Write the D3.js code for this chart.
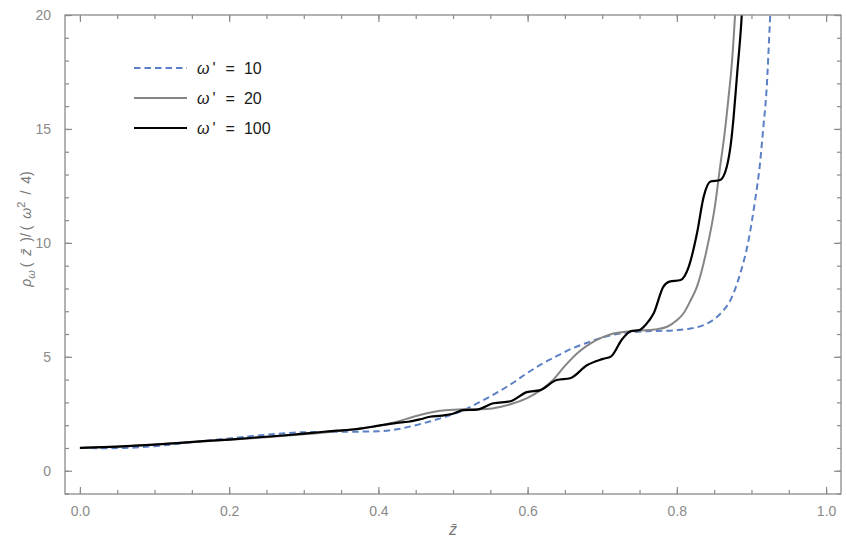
<!DOCTYPE html>
<html>
<head>
<meta charset="utf-8">
<script src="https://cdn.jsdelivr.net/npm/d3@7"></script>
<style>
  html, body { margin: 0; padding: 0; background: #fff; }
  svg { display: block; }
</style>
</head>
<body>
<svg id="chart" width="846" height="541"></svg>
<script>
// Density ratio rho_w(z)/(w^2/4) for three values of w'
const seriesNames = ["ω' = 10", "ω' = 20", "ω' = 100"];

const zW10 = [0, 0.03, 0.06, 0.1, 0.15, 0.2, 0.25, 0.3, 0.35, 0.4, 0.43, 0.45, 0.47, 0.49, 0.51, 0.535, 0.56, 0.58, 0.6, 0.62, 0.64, 0.66, 0.68, 0.7, 0.72, 0.74, 0.76, 0.78, 0.8, 0.82, 0.835, 0.85, 0.86, 0.872, 0.885, 0.896, 0.905, 0.911, 0.916, 0.92, 0.925, 0.928];
const vW10 = [1.0, 0.99, 1.0, 1.08, 1.25, 1.42, 1.58, 1.69, 1.71, 1.73, 1.85, 2.0, 2.17, 2.37, 2.6, 3.0, 3.45, 3.85, 4.3, 4.7, 5.05, 5.37, 5.62, 5.85, 6.0, 6.08, 6.12, 6.14, 6.17, 6.25, 6.38, 6.65, 6.95, 7.5, 8.66, 10.1, 11.9, 13.35, 15.1, 16.6, 19.9, 22];

const zW20 = [0, 0.05, 0.1, 0.15, 0.2, 0.25, 0.3, 0.35, 0.4, 0.425, 0.447, 0.465, 0.483, 0.5, 0.514, 0.53, 0.545, 0.563, 0.581, 0.6, 0.618, 0.633, 0.65, 0.668, 0.685, 0.7, 0.715, 0.73, 0.75, 0.77, 0.787, 0.8, 0.809, 0.818, 0.827, 0.84, 0.851, 0.858, 0.864, 0.869, 0.874, 0.878, 0.881];
const vW20 = [1.0, 1.05, 1.15, 1.25, 1.36, 1.47, 1.6, 1.76, 1.97, 2.15, 2.37, 2.52, 2.63, 2.68, 2.7, 2.7, 2.71, 2.8, 2.96, 3.2, 3.55, 3.95, 4.6, 5.2, 5.6, 5.85, 6.02, 6.1, 6.15, 6.2, 6.32, 6.6, 6.91, 7.45, 8.08, 9.7, 11.6, 13.35, 14.8, 16.3, 18.0, 20.0, 22];

const zW100 = [0, 0.05, 0.1, 0.165, 0.2, 0.24, 0.28, 0.32, 0.344, 0.362, 0.38, 0.4, 0.425, 0.44, 0.456, 0.469, 0.485, 0.5, 0.514, 0.532, 0.554, 0.577, 0.599, 0.617, 0.639, 0.657, 0.68, 0.7, 0.712, 0.726, 0.738, 0.75, 0.758, 0.769, 0.782, 0.79, 0.805, 0.816, 0.827, 0.836, 0.845, 0.858, 0.867, 0.873, 0.876, 0.881, 0.887, 0.89];
const vW100 = [1.0, 1.06, 1.15, 1.3, 1.37, 1.47, 1.57, 1.69, 1.76, 1.8, 1.87, 1.98, 2.1, 2.15, 2.26, 2.37, 2.42, 2.5, 2.66, 2.68, 2.96, 3.05, 3.45, 3.54, 3.98, 4.06, 4.64, 4.9, 5.02, 5.74, 6.12, 6.18, 6.4, 6.91, 8.08, 8.3, 8.37, 8.96, 10.42, 12.03, 12.69, 12.76, 13.35, 14.52, 15.5, 17.5, 20.0, 22];

const xMajorTicks = [0, 0.2, 0.4, 0.6, 0.8, 1.0];
const yMajorTicks = [0, 5, 10, 15, 20];

const series = [
  { name: seriesNames[0], z: zW10, v: vW10, color: "#5b80c6", width: 2, dash: "6.5,4" },
  { name: seriesNames[1], z: zW20, v: vW20, color: "#858585", width: 2, dash: null },
  { name: seriesNames[2], z: zW100, v: vW100, color: "#000000", width: 2.2, dash: null }
];

const plotLeft = 65, plotRight = 841, plotTop = 15, plotBottom = 494;
const x = d3.scaleLinear().domain([-0.02, 1.02]).range([plotLeft, plotRight]);
const y = d3.scaleLinear().domain([-1.02, 20]).range([plotBottom, plotTop]);

const svg = d3.select("#chart");
const frameColor = "#8a8a8a";
const tickFont = "'Liberation Sans', Arial, sans-serif";

svg.append("defs").append("clipPath").attr("id", "plotClip")
  .append("rect").attr("x", plotLeft).attr("y", plotTop)
  .attr("width", plotRight - plotLeft).attr("height", plotBottom - plotTop);

// Curves
const line = d3.line()
  .x(d => x(d[0])).y(d => y(d[1]))
  .curve(d3.curveMonotoneX);

const curves = svg.append("g").attr("clip-path", "url(#plotClip)");
series.forEach(s => {
  const pts = s.z.map((z, i) => [z, s.v[i]]);
  curves.append("path")
    .datum(pts)
    .attr("d", line)
    .attr("fill", "none")
    .attr("stroke", s.color)
    .attr("stroke-width", s.width)
    .attr("stroke-linejoin", "round")
    .attr("stroke-dasharray", s.dash);
});

// Axes on all four sides, ticks pointing inward
const xMinor = d3.range(0, 1.0001, 0.05).map(v => +v.toFixed(2));
const yMinor = d3.range(-1, 20.001, 1);

function styleAxis(g) {
  g.select(".domain").remove();
  g.selectAll(".tick line").attr("stroke", frameColor).attr("stroke-width", 1.2);
  g.selectAll(".tick text").attr("fill", "#8a8a8a")
    .style("font-family", tickFont).style("font-size", "14px");
}

// bottom
svg.append("g").attr("transform", `translate(0,${plotBottom})`)
  .call(d3.axisBottom(x).tickValues(xMinor).tickSize(-4).tickFormat(""))
  .call(styleAxis);
svg.append("g").attr("transform", `translate(0,${plotBottom})`)
  .call(d3.axisBottom(x).tickValues(xMajorTicks).tickSize(-7).tickPadding(12).tickFormat(d3.format(".1f")))
  .call(styleAxis);
// top
svg.append("g").attr("transform", `translate(0,${plotTop})`)
  .call(d3.axisTop(x).tickValues(xMinor).tickSize(-4).tickFormat(""))
  .call(styleAxis);
svg.append("g").attr("transform", `translate(0,${plotTop})`)
  .call(d3.axisTop(x).tickValues(xMajorTicks).tickSize(-7).tickFormat(""))
  .call(styleAxis);
// left
svg.append("g").attr("transform", `translate(${plotLeft},0)`)
  .call(d3.axisLeft(y).tickValues(yMinor).tickSize(-4).tickFormat(""))
  .call(styleAxis);
svg.append("g").attr("transform", `translate(${plotLeft},0)`)
  .call(d3.axisLeft(y).tickValues(yMajorTicks).tickSize(-7).tickPadding(14).tickFormat(d3.format("d")))
  .call(styleAxis);
// right
svg.append("g").attr("transform", `translate(${plotRight},0)`)
  .call(d3.axisRight(y).tickValues(yMinor).tickSize(-4).tickFormat(""))
  .call(styleAxis);
svg.append("g").attr("transform", `translate(${plotRight},0)`)
  .call(d3.axisRight(y).tickValues(yMajorTicks).tickSize(-7).tickFormat(""))
  .call(styleAxis);

// Frame
svg.append("rect")
  .attr("x", plotLeft).attr("y", plotTop)
  .attr("width", plotRight - plotLeft).attr("height", plotBottom - plotTop)
  .attr("fill", "none").attr("stroke", frameColor).attr("stroke-width", 1.3);

// Axis titles
svg.append("text")
  .attr("x", (x(0) + x(1)) / 2).attr("y", 535)
  .attr("text-anchor", "middle")
  .attr("fill", "#777")
  .style("font-family", tickFont).style("font-size", "16px").style("font-style", "italic")
  .text("z\u0304");

const yTitle = svg.append("text")
  .attr("transform", `translate(31,229) rotate(-90)`)
  .attr("text-anchor", "middle")
  .attr("fill", "#777")
  .style("font-family", tickFont).style("font-size", "14px");
yTitle.append("tspan").style("font-style", "italic").text("ρ");
yTitle.append("tspan").style("font-style", "italic").style("font-size", "11px").attr("dy", 4).text("ω");
yTitle.append("tspan").attr("dy", -4).text("\u2009(\u2002");
yTitle.append("tspan").style("font-style", "italic").text("z\u0304");
yTitle.append("tspan").text("\u2002)/\u2009(\u2002");
yTitle.append("tspan").style("font-style", "italic").text("ω");
yTitle.append("tspan").style("font-size", "11px").attr("dy", -6).text("2");
yTitle.append("tspan").attr("dy", 6).text("\u2002/\u20024)");

// Legend
const legend = svg.append("g");
series.forEach((s, i) => {
  const ly = 68 + i * 30;
  legend.append("line")
    .attr("x1", 134).attr("x2", 187).attr("y1", ly).attr("y2", ly)
    .attr("stroke", s.color).attr("stroke-width", s.width)
    .attr("stroke-dasharray", s.dash);
  const t = legend.append("text")
    .attr("x", 197).attr("y", ly + 5.5)
    .attr("fill", "#1a1a1a")
    .style("font-family", tickFont).style("font-size", "16px");
  const parts = s.name.split(" = ");
  t.append("tspan").style("font-style", "italic").text(parts[0].replace("'", ""));
  t.append("tspan").attr("dx", 3).text("'");
  t.append("tspan").attr("dx", 10).text("=");
  t.append("tspan").attr("dx", 9).text(parts[1]);
});
</script>
</body>
</html>
